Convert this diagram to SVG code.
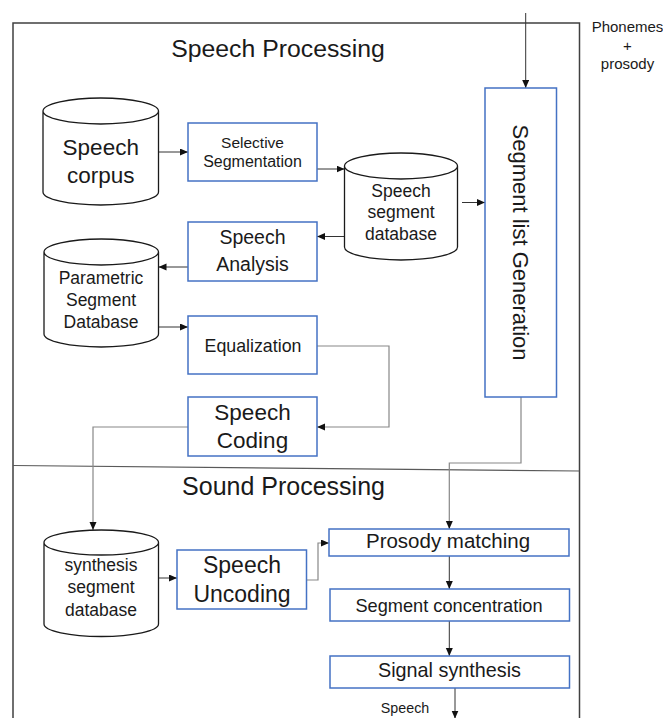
<svg xmlns="http://www.w3.org/2000/svg" width="663" height="718" viewBox="0 0 663 718">
<style>
text{font-family:"Liberation Sans",Arial,sans-serif;fill:#1a1a1a;text-anchor:middle}
.box{fill:#fff;stroke:#4472C4;stroke-width:1.5}
.cyl{fill:#fff;stroke:#1a1a1a;stroke-width:1.3}
.frame{fill:none;stroke:#404040;stroke-width:1.5}
.c{fill:none;stroke:#333;stroke-width:1;marker-end:url(#ah)}
.g{fill:none;stroke:#888;stroke-width:1.2;marker-end:url(#ah)}
</style>
<defs>
<marker id="ah" markerUnits="userSpaceOnUse" markerWidth="9" markerHeight="8" refX="8" refY="3.5" orient="auto">
<path d="M0,0 L8,3.5 L0,7 Z" fill="#111"/>
</marker>
</defs>
<rect width="663" height="718" fill="#fff"/>
<g id="frame">
<path class="frame" d="M13,718 V23 H579.5 V718"/>
<line x1="13" y1="465.5" x2="579.5" y2="471" stroke="#595959" stroke-width="1.2"/>
<text x="278" y="57" font-size="24.8">Speech Processing</text>
<text x="283.5" y="495" font-size="25">Sound Processing</text>
</g>
<g id="connectors">
<path class="c" d="M525.7,13 V88"/>
<path class="c" d="M158.5,152 H188"/>
<path class="c" d="M317,169 H344.5"/>
<path class="c" d="M462,202.5 H485"/>
<path class="c" d="M344,236.5 H317"/>
<path class="c" d="M188,267 H158.5"/>
<path class="c" d="M158.5,327 H188"/>
<path class="g" d="M317,346 H389 V427 H317"/>
<path class="g" d="M188,427 H93 V530"/>
<path class="g" d="M521,397 V463 H449.3 V529"/>
<path class="c" d="M158.5,578 H177"/>
<path class="g" d="M306.5,580 H318 V543 H329"/>
<path class="c" d="M449.3,556 V589"/>
<path class="c" d="M449.3,621 V656"/>
<path class="c" d="M455,688 V718.5"/>
</g>
<g id="segment-list-generation">
<rect class="box" x="485" y="88" width="71.5" height="309"/>
<text transform="translate(521,242.5) rotate(90)" x="0" y="7.7" font-size="22">Segment list Generation</text>
</g>
<g id="speech-corpus">
<path class="cyl" d="M43,111 A57.75,13 0 0,1 158.5,111 V192 A57.75,13 0 0,1 43,192 Z M43,111 A57.75,13 0 0,0 158.5,111"/>
<text x="100.75" y="155" font-size="22.5">Speech</text>
<text x="100.75" y="183" font-size="22.5">corpus</text>
</g>
<g id="selective-segmentation">
<rect class="box" x="188" y="123" width="129" height="58"/>
<text x="252.5" y="148" font-size="15.5">Selective</text>
<text x="252.5" y="167" font-size="16">Segmentation</text>
</g>
<g id="speech-segment-database">
<path class="cyl" d="M344.5,166 A56.5,13 0 0,1 457.5,166 V247 A56.5,13 0 0,1 344.5,247 Z M344.5,166 A56.5,13 0 0,0 457.5,166"/>
<text x="401" y="197" font-size="17.5">Speech</text>
<text x="401" y="218" font-size="17.5">segment</text>
<text x="401" y="240" font-size="17.5">database</text>
</g>
<g id="speech-analysis">
<rect class="box" x="188" y="222" width="129" height="59"/>
<text x="252.5" y="244" font-size="19.5">Speech</text>
<text x="252.5" y="270.5" font-size="19.5">Analysis</text>
</g>
<g id="parametric-segment-database">
<path class="cyl" d="M44,252 A57.25,13 0 0,1 158.5,252 V334 A57.25,13 0 0,1 44,334 Z M44,252 A57.25,13 0 0,0 158.5,252"/>
<text x="101" y="284" font-size="17.5">Parametric</text>
<text x="101" y="306" font-size="17.5">Segment</text>
<text x="101" y="328" font-size="17.5">Database</text>
</g>
<g id="equalization">
<rect class="box" x="188" y="316" width="129" height="58"/>
<text x="253" y="352" font-size="17.8">Equalization</text>
</g>
<g id="speech-coding">
<rect class="box" x="188" y="397" width="129" height="59"/>
<text x="252.5" y="420" font-size="22.5">Speech</text>
<text x="252.5" y="448" font-size="22.5">Coding</text>
</g>
<g id="synthesis-segment-database">
<path class="cyl" d="M44,542.5 A57.25,12.5 0 0,1 158.5,542.5 V624 A57.25,12.5 0 0,1 44,624 Z M44,542.5 A57.25,12.5 0 0,0 158.5,542.5"/>
<text x="101" y="571" font-size="17.5">synthesis</text>
<text x="101" y="593" font-size="17.5">segment</text>
<text x="101" y="615.5" font-size="17.5">database</text>
</g>
<g id="speech-uncoding">
<rect class="box" x="177" y="550" width="129.5" height="59"/>
<text x="242" y="573" font-size="23">Speech</text>
<text x="242" y="601.5" font-size="23">Uncoding</text>
</g>
<g id="prosody-matching">
<rect class="box" x="329" y="529" width="240" height="27"/>
<text x="448" y="548" font-size="20.5">Prosody matching</text>
</g>
<g id="segment-concentration">
<rect class="box" x="330" y="589" width="239.5" height="32"/>
<text x="449" y="611.5" font-size="18.2">Segment concentration</text>
</g>
<g id="signal-synthesis">
<rect class="box" x="330" y="656" width="239.5" height="32"/>
<text x="449.5" y="677" font-size="19.8">Signal synthesis</text>
</g>
<g id="labels">
<text x="405" y="713" font-size="14.3">Speech</text>
<text x="627.5" y="32" font-size="15">Phonemes</text>
<text x="627.5" y="51" font-size="15">+</text>
<text x="627.5" y="69" font-size="15">prosody</text>
</g>
</svg>
